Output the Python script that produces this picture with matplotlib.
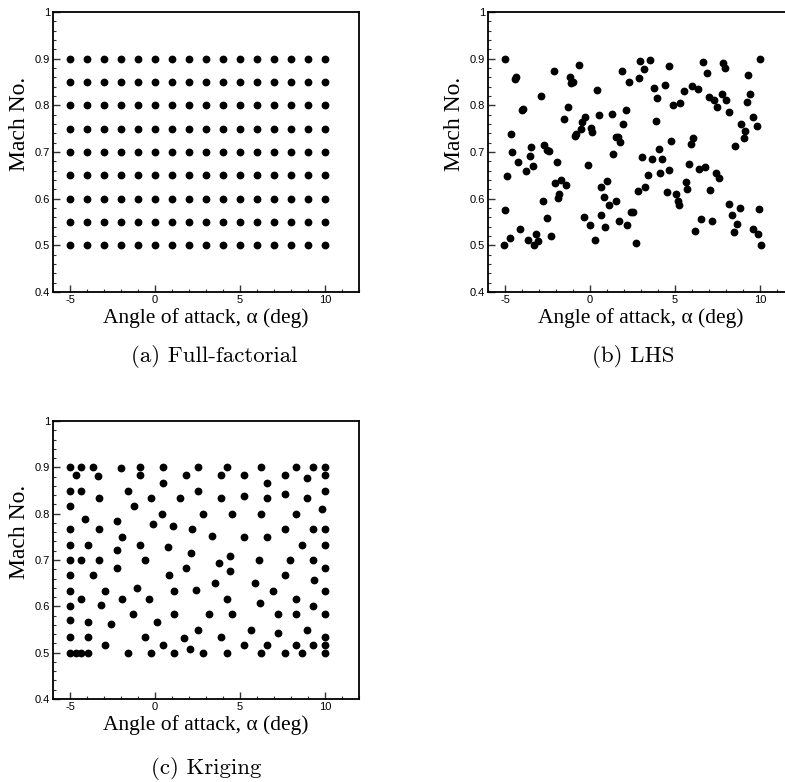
import numpy as np
import matplotlib
matplotlib.use('Agg')
import matplotlib.pyplot as plt
from matplotlib.ticker import MultipleLocator, FuncFormatter

plt.rcParams['axes.unicode_minus'] = False

# full-factorial design: 16 angles x 9 Mach numbers
ff_alpha = [-5, -4, -3, -2, -1, 0, 1, 2, 3, 4, 5, 6, 7, 8, 9, 10]
ff_mach = [0.5, 0.55, 0.6, 0.65, 0.7, 0.75, 0.8, 0.85, 0.9]

# latin hypercube samples
lhs_alpha = [-5.0, -4.36, -4.40, -3.95, -3.99, -4.64, -4.58, -4.87, -4.22, -3.75,
             -3.46, -3.54, -3.36, -2.89, -2.73, -2.55, -2.40, -2.12, -1.53, -1.28,
             -1.18, -1.14, -0.98, -0.67, -0.88, -0.83, -0.49, -0.53, -0.28, 0.08,
             0.14, 0.43, 0.53, -1.94, -2.06, -1.69, -1.40, -1.81, -1.87, -2.79,
             -2.55, -2.30, -3.20, -3.03, -3.30, -3.63, -4.11, -4.73, -5.03, -5.01,
             -0.12, -0.37, 0.0, 0.31, 0.88, 0.67, 0.83, 0.67, 0.98, 1.14,
             1.53, 1.73, 2.16, 2.40, 2.53, 2.69, 2.81, 3.22, 3.42, 3.06,
             1.38, 1.51, 1.67, 1.75, 1.96, 1.28, 2.12, 1.91, 2.32, 2.91,
             2.95, 3.18, 3.54, 3.65, 3.79, 3.97, 3.89, 4.03, 4.11, 4.22,
             4.40, 4.66, 4.75, 4.91, 4.64, 4.54, 5.03, 5.15, 5.25, 5.28,
             5.50, 5.62, 5.70, 5.80, 6.01, 6.05, 5.97, 6.37, 6.42, 6.74,
             6.64, 6.86, 7.02, 7.03, 7.32, 7.47, 7.43, 7.58, 7.74, 7.80,
             7.94, 7.19, 6.50, 6.19, 8.02, 8.15, 8.19, 8.35, 8.51, 8.45,
             8.62, 8.84, 8.88, 9.04, 9.12, 9.21, 9.29, 9.41, 9.61, 9.61,
             9.90, 9.94, 10.04, 9.80, 10.02]
lhs_mach = [0.900, 0.861, 0.856, 0.793, 0.789, 0.738, 0.700, 0.649, 0.678, 0.659,
            0.711, 0.692, 0.671, 0.819, 0.716, 0.704, 0.702, 0.873, 0.771, 0.796,
            0.861, 0.848, 0.850, 0.887, 0.735, 0.739, 0.764, 0.750, 0.774, 0.752,
            0.743, 0.832, 0.780, 0.679, 0.634, 0.641, 0.630, 0.611, 0.601, 0.596,
            0.559, 0.519, 0.524, 0.509, 0.501, 0.512, 0.534, 0.516, 0.501, 0.576,
            0.673, 0.561, 0.544, 0.512, 0.539, 0.564, 0.603, 0.624, 0.637, 0.586,
            0.596, 0.552, 0.543, 0.572, 0.571, 0.505, 0.616, 0.626, 0.651, 0.690,
            0.696, 0.733, 0.732, 0.721, 0.759, 0.781, 0.791, 0.874, 0.851, 0.859,
            0.894, 0.877, 0.897, 0.686, 0.837, 0.816, 0.766, 0.706, 0.654, 0.684,
            0.844, 0.884, 0.724, 0.801, 0.661, 0.614, 0.611, 0.594, 0.586, 0.806,
            0.830, 0.636, 0.620, 0.674, 0.842, 0.729, 0.718, 0.835, 0.664, 0.667,
            0.893, 0.870, 0.818, 0.619, 0.811, 0.796, 0.656, 0.644, 0.825, 0.891,
            0.881, 0.552, 0.556, 0.531, 0.811, 0.785, 0.589, 0.566, 0.713, 0.528,
            0.546, 0.581, 0.759, 0.730, 0.746, 0.807, 0.866, 0.825, 0.774, 0.536,
            0.524, 0.578, 0.500, 0.756, 0.900]

# adaptive kriging samples
krig_alpha = [-5.0, -4.33, -3.62, -0.90, 0.45, 2.51, 4.21, 6.25, 8.28, 9.32, 10.0, -1.98,
              -4.66, 1.82, 3.86, 5.23, 7.62, 10.0, -3.37, -0.90, 8.97,
              0.45, 6.60,
              -5.0, -4.33, -1.59, 2.51, 10.0, 7.62,
              -3.29, -0.22, 1.49, 3.86, 6.60, 8.97, 5.23,
              -5.0, -1.25, 9.81,
              0.41, 2.84, 4.54, 6.25, 8.28, -4.13,
              -2.25, -0.12, 1.04,
              -5.0, -3.29, 2.15, 7.62, 9.32, 10.0,
              -1.92, 5.23, 6.60, 3.35,
              -5.0, -3.97, -0.90, 8.64, 10.0, 0.76,
              -2.21, 2.13, 4.41,
              -5.0, -4.33, -3.29, -0.57, 6.09, 7.95, 9.32, 3.78,
              -2.25, 1.82, 10.0, 4.41,
              -5.0, -3.62, 0.80, 7.62, 9.38,
              3.52, 5.91, -1.04, 2.39,
              -5.0, -2.94, 1.12, 6.93, 10.0,
              -4.33, -1.92, -0.35, 4.21, 8.28, 6.17, -3.17,
              -5.0, 9.32,
              -1.29, 1.12, 3.19, 4.54, 7.26, 8.28, 10.0, -5.0,
              -3.97, 0.10, -2.57,
              2.51, 5.66, 8.97, 7.26,
              -5.0, -3.97, -0.57, 3.86, 10.0, 1.70,
              -2.94, 0.45, 5.23, 6.60, 8.28, 9.32, 10.0, 2.06,
              -5.0, -4.66, -4.33, -3.97, -1.59, -0.22, 1.12, 2.84, 4.21, 6.25, 7.62, 8.64, 10.0]
krig_mach = [0.9, 0.9, 0.9, 0.9, 0.9, 0.9, 0.9, 0.9, 0.9, 0.9, 0.9, 0.898,
             0.8833, 0.8833, 0.8833, 0.8833, 0.8833, 0.8833, 0.881, 0.8833, 0.876,
             0.8667, 0.8667,
             0.85, 0.85, 0.85, 0.85, 0.85, 0.843,
             0.8333, 0.8333, 0.8333, 0.8333, 0.8333, 0.8333, 0.839,
             0.8167, 0.8167, 0.81,
             0.8, 0.8, 0.8, 0.8, 0.8, 0.789,
             0.7833, 0.778, 0.773,
             0.7667, 0.7667, 0.7667, 0.7667, 0.7667, 0.7667,
             0.75, 0.75, 0.75, 0.752,
             0.7333, 0.7333, 0.7333, 0.7333, 0.7333, 0.729,
             0.722, 0.716, 0.708,
             0.7, 0.7, 0.7, 0.7, 0.7, 0.7, 0.7, 0.693,
             0.6833, 0.6833, 0.6833, 0.677,
             0.6667, 0.6667, 0.6667, 0.6667, 0.657,
             0.65, 0.65, 0.64, 0.636,
             0.6333, 0.6333, 0.6333, 0.6333, 0.6333,
             0.6167, 0.6167, 0.6167, 0.6167, 0.6167, 0.608, 0.603,
             0.6, 0.6,
             0.5833, 0.5833, 0.5833, 0.5833, 0.5833, 0.5833, 0.5833, 0.571,
             0.5667, 0.5667, 0.561,
             0.55, 0.55, 0.55, 0.543,
             0.5333, 0.5333, 0.5333, 0.5333, 0.5333, 0.531,
             0.5167, 0.5167, 0.5167, 0.5167, 0.5167, 0.5167, 0.5167, 0.507,
             0.5, 0.5, 0.5, 0.5, 0.5, 0.5, 0.5, 0.5, 0.5, 0.5, 0.5, 0.5, 0.5]

captions = ['(a) Full-factorial', '(b) LHS', '(c) Kriging']

W, H = 785, 782
fig = plt.figure(figsize=(W / 100, H / 100), dpi=100)


def make_axes(left, top, right, bottom):
    return fig.add_axes([left / W, 1 - bottom / H, (right - left) / W, (bottom - top) / H])


def style(ax):
    ax.set_xlim(-6, 12)
    ax.set_ylim(0.4, 1.0)
    ax.xaxis.set_major_locator(MultipleLocator(5))
    ax.xaxis.set_minor_locator(MultipleLocator(1))
    ax.yaxis.set_major_locator(MultipleLocator(0.1))
    ax.yaxis.set_minor_locator(MultipleLocator(0.02))
    ax.yaxis.set_major_formatter(FuncFormatter(lambda v, p: '{:g}'.format(round(v, 2))))
    ax.tick_params(which='both', direction='in', top=False, right=False, color='#333333')
    ax.tick_params(which='major', length=5, width=1.0, labelsize=8, pad=2)
    ax.tick_params(which='minor', length=2.5, width=0.8)
    for lab in ax.get_xticklabels() + ax.get_yticklabels():
        lab.set_fontfamily('Liberation Sans')
    for s in ax.spines.values():
        s.set_linewidth(1.3)
    ax.text(0.5, -0.058, 'Angle of attack, α (deg)', transform=ax.transAxes,
            ha='center', va='top', fontsize=15.5, family='Liberation Serif')
    ax.text(-0.075, 0.60, 'Mach No.', transform=ax.transAxes, rotation=90,
            ha='right', va='center', fontsize=17, family='Liberation Serif')


dot = dict(ls='none', marker='o', ms=4.6, color='black', clip_on=False)

ax1 = make_axes(53, 12, 359, 292)
A, M = np.meshgrid(ff_alpha, ff_mach)
ax1.plot(A.ravel(), M.ravel(), **dot)
style(ax1)

ax2 = make_axes(488, 12, 794, 292)
ax2.plot(lhs_alpha, lhs_mach, **dot)
style(ax2)

ax3 = make_axes(53, 421, 359, 699)
ax3.plot(krig_alpha, krig_mach, **dot)
style(ax3)

cap_pos = [(214, 357), (633, 357), (206, 768)]
for txt, (cx, cy) in zip(captions, cap_pos):
    fig.text(cx / W, 1 - cy / H, txt, ha='center', va='center', fontsize=16.5, family='cmr10')

fig.savefig('out.png', dpi=100)
